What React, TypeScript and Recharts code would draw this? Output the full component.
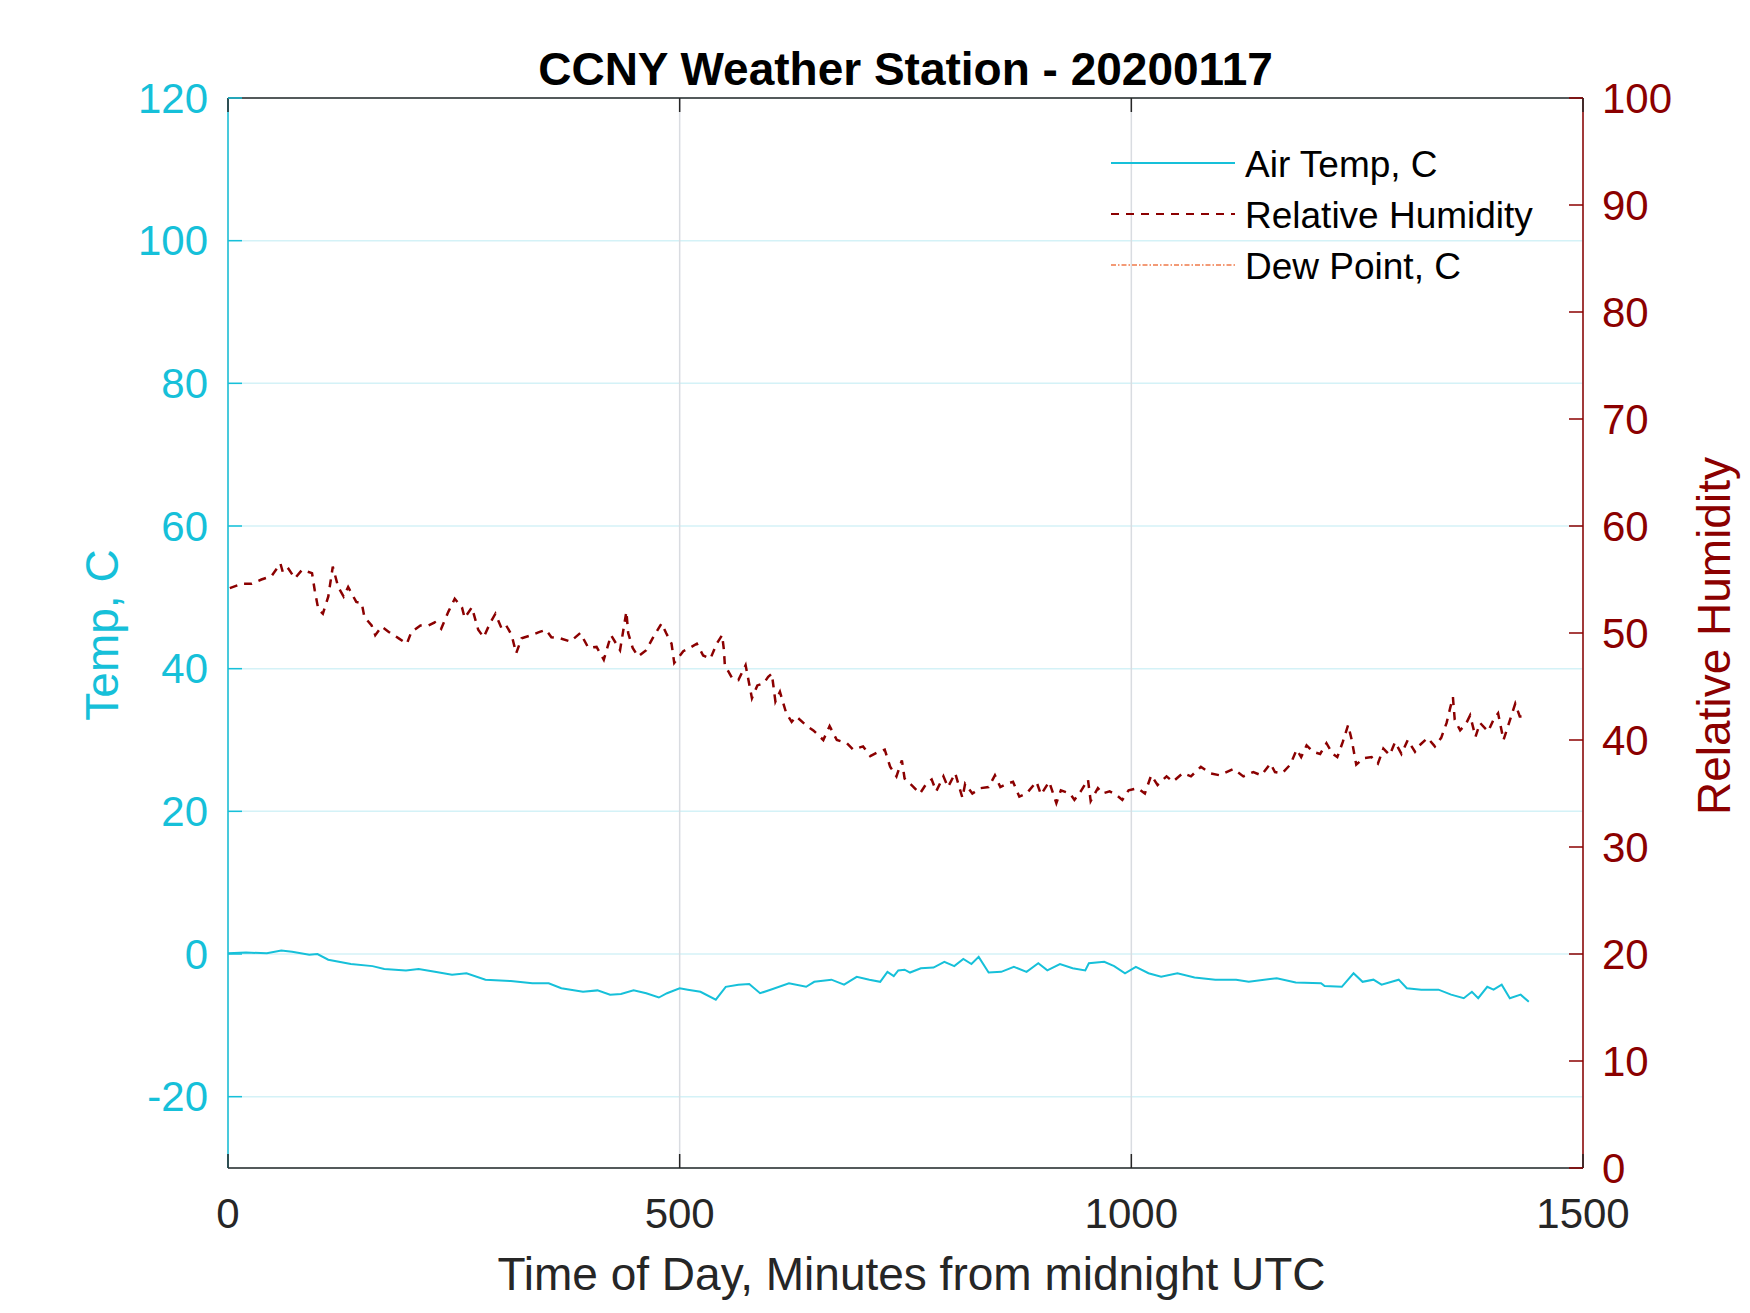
import { LineChart, Line, XAxis, YAxis, CartesianGrid, Legend, Label, ReferenceLine } from 'recharts'

const W = 1750
const H = 1313
const PLOT_LEFT = 228
const PLOT_RIGHT = 1583
const PLOT_TOP = 98
const PLOT_BOTTOM = 1168
const TICK_LEN = 14

const CYAN = '#16c0d9'
const DARK_RED = '#8b0000'
const DEW = '#f07a4a'
const INK = '#262626'
const FONT = '"Liberation Sans", Arial, Helvetica, sans-serif'

const xTicks = [0, 500, 1000, 1500]
const tempTicks = [-20, 0, 20, 40, 60, 80, 100, 120]
const rhTicks = [0, 10, 20, 30, 40, 50, 60, 70, 80, 90, 100]
const legendNames = ['Air Temp, C', 'Relative Humidity', 'Dew Point, C']

const tempMinutes = [
  0, 20, 43, 59, 71, 90, 99, 111, 136, 160, 173, 197, 211, 229, 248, 264, 285, 313, 337, 355,
  369, 393, 409, 423, 435, 449, 463, 477, 486, 500, 509, 523, 540, 551, 565, 577, 589, 603, 621, 640,
  649, 668, 682, 696, 710, 722, 730, 737, 742, 749, 755, 767, 781, 793, 804, 814, 823, 831, 842, 856,
  870, 884, 897, 907, 921, 935, 949, 953, 970, 981, 993, 1005, 1019, 1033, 1051, 1070, 1093, 1116, 1130, 1161,
  1182, 1210, 1214, 1233, 1246, 1256, 1268, 1277, 1296, 1305, 1321, 1340, 1354, 1368, 1377, 1384, 1394, 1401, 1410, 1419,
  1431, 1440,
]
const tempValues = [
  0.1, 0.2, 0.1, 0.5, 0.3, -0.1, 0.0, -0.8, -1.4, -1.7, -2.1, -2.3, -2.1, -2.5, -2.9, -2.7, -3.6, -3.8, -4.1, -4.1,
  -4.8, -5.3, -5.1, -5.7, -5.6, -5.1, -5.5, -6.1, -5.5, -4.8, -5.0, -5.3, -6.4, -4.6, -4.3, -4.2, -5.5, -4.9, -4.1, -4.6,
  -3.9, -3.6, -4.3, -3.2, -3.6, -3.9, -2.5, -3.1, -2.3, -2.2, -2.6, -2.0, -1.9, -1.1, -1.7, -0.7, -1.4, -0.4, -2.6, -2.5,
  -1.8, -2.5, -1.3, -2.3, -1.4, -2.0, -2.3, -1.3, -1.1, -1.7, -2.7, -1.8, -2.7, -3.2, -2.7, -3.3, -3.6, -3.6, -3.9, -3.4,
  -4.0, -4.1, -4.5, -4.6, -2.7, -3.9, -3.6, -4.3, -3.6, -4.8, -5.0, -5.0, -5.7, -6.2, -5.3, -6.2, -4.6, -5.0, -4.3, -6.2,
  -5.7, -6.7,
]

const rhMinutes = [
  2, 15, 26, 37, 48, 58, 61, 67, 74, 82, 93, 96, 100, 105, 111, 116, 122, 128, 133, 142,
  148, 151, 159, 163, 170, 178, 189, 198, 203, 213, 222, 229, 236, 244, 251, 259, 262, 270, 277, 283,
  290, 296, 303, 308, 314, 319, 325, 336, 345, 352, 358, 368, 379, 390, 399, 408, 416, 424, 434, 441,
  443, 448, 454, 463, 470, 480, 485, 491, 494, 504, 511, 519, 526, 534, 541, 547, 549, 550, 558, 565,
  573, 580, 586, 593, 598, 602, 606, 611, 618, 624, 629, 641, 648, 659, 666, 674, 685, 692, 703, 711,
  718, 727, 733, 740, 746, 749, 759, 766, 773, 779, 784, 792, 797, 805, 813, 816, 824, 833, 842, 849,
  855, 862, 869, 876, 884, 895, 900, 909, 917, 922, 932, 937, 944, 952, 955, 963, 968, 976, 983, 990,
  997, 1007, 1015, 1022, 1029, 1039, 1046, 1057, 1066, 1077, 1087, 1098, 1113, 1124, 1135, 1144, 1154, 1159, 1167, 1176,
  1183, 1188, 1194, 1201, 1209, 1216, 1223, 1228, 1234, 1240, 1244, 1247, 1249, 1257, 1266, 1273, 1279, 1286, 1292, 1299,
  1306, 1314, 1319, 1328, 1336, 1343, 1349, 1353, 1356, 1358, 1364, 1371, 1375, 1381, 1386, 1395, 1401, 1406, 1412, 1417,
  1425, 1430, 1437,
]
const rhValues = [
  54.2, 54.6, 54.6, 55.0, 55.3, 56.5, 55.6, 56.0, 55.1, 55.9, 55.6, 54.0, 52.2, 51.8, 53.4, 56.2, 54.3, 53.4, 54.3, 52.9,
  52.8, 51.5, 50.7, 49.8, 50.6, 50.1, 49.5, 49.0, 50.1, 50.7, 50.7, 51.0, 50.4, 52.0, 53.2, 52.4, 51.4, 52.4, 50.3, 49.6,
  50.9, 51.8, 50.4, 50.7, 49.8, 48.1, 49.5, 49.8, 50.1, 50.3, 49.6, 49.5, 49.2, 50.0, 48.6, 48.7, 47.5, 49.8, 48.4, 52.0,
  50.0, 48.6, 47.8, 48.4, 49.5, 50.9, 50.0, 49.0, 47.2, 48.3, 48.6, 49.0, 47.9, 47.6, 49.0, 49.8, 48.4, 47.0, 45.8, 45.6,
  47.0, 43.9, 45.1, 45.3, 45.9, 46.2, 43.6, 44.5, 42.5, 41.7, 42.2, 41.3, 40.9, 40.0, 41.3, 40.0, 39.7, 39.1, 39.4, 38.5,
  38.8, 39.1, 37.5, 36.6, 38.1, 36.4, 35.6, 35.0, 35.9, 36.3, 35.2, 36.6, 35.6, 36.9, 34.6, 35.9, 35.0, 35.5, 35.6, 36.7,
  35.6, 35.9, 36.1, 34.7, 35.0, 36.1, 34.9, 36.1, 34.1, 35.3, 35.0, 34.4, 35.2, 36.3, 34.3, 35.5, 35.0, 35.2, 34.9, 34.4,
  35.3, 35.5, 35.0, 36.7, 35.8, 36.6, 36.1, 36.9, 36.6, 37.5, 36.9, 36.7, 37.3, 36.6, 37.0, 36.7, 37.8, 37.0, 36.9, 37.7,
  39.1, 38.4, 39.5, 38.9, 38.7, 39.7, 38.7, 38.4, 39.8, 41.4, 40.0, 38.6, 37.7, 38.3, 38.4, 37.8, 39.2, 38.6, 39.8, 38.7,
  40.0, 38.9, 39.5, 40.2, 39.4, 40.2, 41.6, 43.0, 44.0, 41.9, 40.9, 41.6, 42.3, 40.3, 41.6, 40.8, 41.9, 42.5, 40.0, 41.3,
  43.4, 42.2, 42.2,
]

const tempData = tempMinutes.map((t, i) => ({ t, v: tempValues[i] }))
const rhData = rhMinutes.map((t, i) => ({ t, v: rhValues[i] }))

const XTick = (props: any) => {
  const { x, payload } = props
  return (
    <g>
      <line x1={x} x2={x} y1={PLOT_BOTTOM} y2={PLOT_BOTTOM - TICK_LEN} stroke={INK} strokeWidth={1.5} />
      <line x1={x} x2={x} y1={PLOT_TOP} y2={PLOT_TOP + TICK_LEN} stroke={INK} strokeWidth={1.5} />
      <text x={x} y={PLOT_BOTTOM + 45} textAnchor="middle" dominantBaseline="central" fill={INK} fontSize={42} fontFamily={FONT}>
        {payload.value}
      </text>
    </g>
  )
}

const TempTick = (props: any) => {
  const { y, payload } = props
  return (
    <g>
      <line x1={PLOT_LEFT} x2={PLOT_LEFT + TICK_LEN} y1={y} y2={y} stroke={CYAN} strokeWidth={1.5} />
      <text x={PLOT_LEFT - 20} y={y} textAnchor="end" dominantBaseline="central" fill={CYAN} fontSize={42} fontFamily={FONT}>
        {payload.value}
      </text>
    </g>
  )
}

const RhTick = (props: any) => {
  const { y, payload } = props
  return (
    <g>
      <line x1={PLOT_RIGHT} x2={PLOT_RIGHT - TICK_LEN} y1={y} y2={y} stroke={DARK_RED} strokeWidth={1.5} />
      <text x={PLOT_RIGHT + 19} y={y} textAnchor="start" dominantBaseline="central" fill={DARK_RED} fontSize={42} fontFamily={FONT}>
        {payload.value}
      </text>
    </g>
  )
}

const renderLegend = () => {
  const strokes = [
    { color: CYAN, dash: undefined, width: 2 },
    { color: DARK_RED, dash: '8 7', width: 2.2 },
    { color: DEW, dash: '5 2 1.5 2', width: 1.5 },
  ]
  return (
    <svg width={460} height={160} style={{ display: 'block' }}>
      {legendNames.map((name, i) => {
        const y = 33 + i * 51
        const s = strokes[i]
        return (
          <g key={name}>
            <line x1={11} x2={135} y1={y} y2={y} stroke={s.color} strokeWidth={s.width} strokeDasharray={s.dash} />
            <text x={145} y={y + 1} dominantBaseline="central" fontSize={37} fill="#000" fontFamily={FONT}>
              {name}
            </text>
          </g>
        )
      })}
    </svg>
  )
}

export default function App() {
  return (
    <div style={{ position: 'absolute', left: 0, top: 0, width: W, height: H, background: '#fff' }}>
      <LineChart
        width={W}
        height={H}
        margin={{ top: PLOT_TOP, right: 0, bottom: 0, left: 0 }}
        style={{ fontFamily: FONT }}
      >
        <CartesianGrid yAxisId="temp" vertical={false} stroke="#d4f2f7" strokeWidth={1.5} />
        <CartesianGrid yAxisId="temp" horizontal={false} stroke="#d9dce1" strokeWidth={1.5} />
        <XAxis
          dataKey="t"
          type="number"
          domain={[0, 1500]}
          ticks={xTicks}
          height={H - PLOT_BOTTOM}
          tickLine={false}
          axisLine={{ stroke: INK, strokeWidth: 1.5 }}
          tick={<XTick />}
        >
          <Label
            content={() => (
              <text x={(PLOT_LEFT + PLOT_RIGHT) / 2 + 6} y={1290} textAnchor="middle" fontSize={46} fill={INK} fontFamily={FONT}>
                Time of Day, Minutes from midnight UTC
              </text>
            )}
          />
        </XAxis>
        <YAxis
          yAxisId="temp"
          type="number"
          domain={[-30, 120]}
          ticks={tempTicks}
          width={PLOT_LEFT}
          tickLine={false}
          axisLine={{ stroke: CYAN, strokeWidth: 1.5 }}
          tick={<TempTick />}
          allowDataOverflow
        >
          <Label
            content={() => (
              <text transform={`translate(118, 635) rotate(-90)`} textAnchor="middle" fontSize={46} fill={CYAN} fontFamily={FONT}>
                Temp, C
              </text>
            )}
          />
        </YAxis>
        <YAxis
          yAxisId="rh"
          orientation="right"
          type="number"
          domain={[0, 100]}
          ticks={rhTicks}
          width={W - PLOT_RIGHT}
          tickLine={false}
          axisLine={{ stroke: DARK_RED, strokeWidth: 1.5 }}
          tick={<RhTick />}
          allowDataOverflow
        >
          <Label
            content={() => (
              <text transform={`translate(1730, 636) rotate(-90)`} textAnchor="middle" fontSize={46} fill={DARK_RED} fontFamily={FONT}>
                Relative Humidity
              </text>
            )}
          />
        </YAxis>
        {/* top box edge, with the title sitting above it */}
        <ReferenceLine yAxisId="temp" y={120} stroke={INK} strokeWidth={1.5}>
          <Label
            content={() => (
              <text x={(PLOT_LEFT + PLOT_RIGHT) / 2} y={85} textAnchor="middle" fontSize={46} fontWeight="bold" fill="#000" fontFamily={FONT}>
                CCNY Weather Station - 20200117
              </text>
            )}
          />
        </ReferenceLine>
        <Legend
          layout="vertical"
          align="center"
          verticalAlign="middle"
          content={renderLegend}
          wrapperStyle={{ position: 'absolute', left: 1100, top: 130, width: 460, height: 160 }}
        />
        <Line
          yAxisId="temp"
          data={tempData}
          dataKey="v"
          stroke={CYAN}
          strokeWidth={2}
          dot={false}
          isAnimationActive={false}
        />
        <Line
          yAxisId="rh"
          data={rhData}
          dataKey="v"
          stroke={DARK_RED}
          strokeWidth={2.5}
          strokeDasharray="8 7"
          dot={false}
          isAnimationActive={false}
        />
      </LineChart>
    </div>
  )
}
